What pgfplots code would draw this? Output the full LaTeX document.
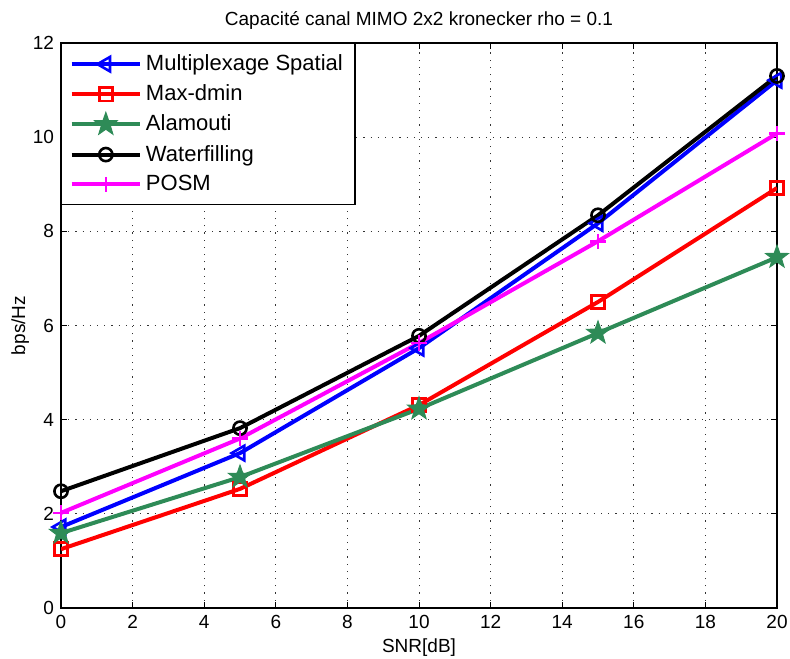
\documentclass[border=0pt]{standalone}
\usepackage{fontspec}
\setmainfont{Liberation Sans}
\usepackage{pgfplots}
\pgfplotsset{compat=1.18}
\usetikzlibrary{calc}
\definecolor{mgreen}{RGB}{46,139,87}
\definecolor{mmag}{RGB}{255,0,255}
\definecolor{mblue}{RGB}{0,0,255}
\definecolor{mred}{RGB}{255,0,0}
\pgfdeclareplotmark{fstar}{%
  \pgfpathmoveto{\pgfqpointpolar{90}{\pgfplotmarksize}}%
  \pgfpathlineto{\pgfqpointpolar{126}{0.4\pgfplotmarksize}}%
  \pgfpathlineto{\pgfqpointpolar{162}{\pgfplotmarksize}}%
  \pgfpathlineto{\pgfqpointpolar{198}{0.4\pgfplotmarksize}}%
  \pgfpathlineto{\pgfqpointpolar{234}{\pgfplotmarksize}}%
  \pgfpathlineto{\pgfqpointpolar{270}{0.4\pgfplotmarksize}}%
  \pgfpathlineto{\pgfqpointpolar{306}{\pgfplotmarksize}}%
  \pgfpathlineto{\pgfqpointpolar{342}{0.4\pgfplotmarksize}}%
  \pgfpathlineto{\pgfqpointpolar{18}{\pgfplotmarksize}}%
  \pgfpathlineto{\pgfqpointpolar{54}{0.4\pgfplotmarksize}}%
  \pgfpathclose
  \pgfusepathqfillstroke}
\begin{document}
\begin{tikzpicture}
\begin{axis}[
  scale only axis,
  width=358pt, height=282.5pt,
  xmin=0, xmax=20, ymin=0, ymax=12,
  xtick={0,2,...,20}, ytick={0,2,...,12},
  tick align=inside,
  major tick length=3pt,
  grid=major,
  grid style={black!80, line width=0.5pt, dash pattern=on 0.6pt off 3pt},
  axis line style={line width=0.6pt},
  tick style={black, line width=0.5pt},
  /pgf/number format/assume math mode=true,
  ticklabel style={font=\fontsize{9.5}{11}\selectfont},
  title={Capacité canal MIMO 2x2 kronecker rho = 0.1},
  title style={font=\fontsize{9.5}{11}\selectfont, yshift=-3pt},
  xlabel={SNR[dB]}, ylabel={bps/Hz},
  xlabel style={font=\fontsize{9.5}{11}\selectfont, yshift=2pt},
  ylabel style={font=\fontsize{9.5}{11}\selectfont, yshift=-5pt},
  legend style={at={(0,1)}, anchor=north west, font=\fontsize{11}{13}\selectfont, draw=black, line width=0.7pt, inner xsep=4pt, inner ysep=3.5pt, row sep=1.6pt},
  legend cell align=left,
  legend image code/.code={\draw[mark repeat=2,mark phase=2] plot coordinates {(0cm,0cm) (0.6cm,0cm) (1.2cm,0cm)};},
  every axis plot/.append style={line width=2pt},
]
\addplot[mblue, mark=triangle, mark size=4.2pt, mark options={rotate=90, solid, line width=1.3pt}] coordinates {(0,1.72) (5,3.29) (10,5.52) (15,8.17) (20,11.21)};
\addlegendentry{Multiplexage Spatial}
\addplot[mred, mark=square, mark size=3.3pt, mark options={line width=1.3pt}] coordinates {(0,1.25) (5,2.53) (10,4.31) (15,6.50) (20,8.92)};
\addlegendentry{Max-dmin}
\addplot[mgreen, mark=fstar, mark size=6pt, mark options={line width=0.5pt, fill=mgreen}] coordinates {(0,1.59) (5,2.78) (10,4.23) (15,5.84) (20,7.45)};
\addlegendentry{Alamouti}
\addplot[black, mark=o, mark size=3.3pt, mark options={line width=1.3pt}] coordinates {(0,2.48) (5,3.82) (10,5.78) (15,8.34) (20,11.30)};
\addlegendentry{Waterfilling}
\addplot[mmag, mark=+, mark size=3.8pt, mark options={line width=1.3pt}] coordinates {(0,2.02) (5,3.60) (10,5.63) (15,7.79) (20,10.08)};
\addlegendentry{POSM}
\end{axis}
\pgfresetboundingbox
\path[use as bounding box] ($(current axis.south west)+(-30.5pt,-25pt)$) rectangle ($(current axis.north east)+(6.5pt,21.5pt)$);
\end{tikzpicture}
\end{document}
